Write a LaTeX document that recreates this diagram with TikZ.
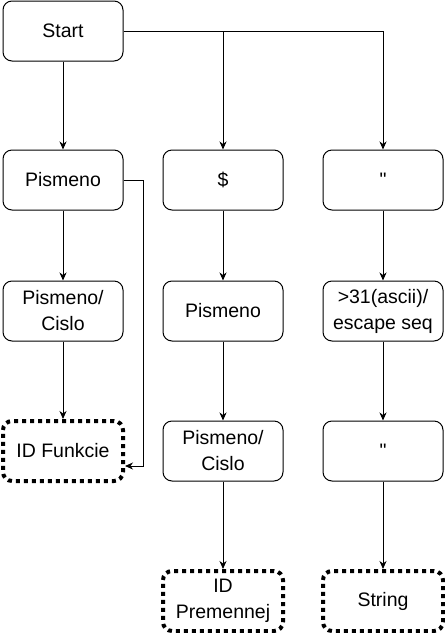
\documentclass[tikz,border=0pt]{standalone}
\usepackage{fontspec}
\setmainfont{Liberation Sans}
\usetikzlibrary{arrows.meta}
\tikzset{
  state/.style={draw, rounded corners=9pt, line width=1pt, minimum width=120pt, minimum height=60pt,
    align=center, font=\fontsize{19.5}{26}\selectfont, inner sep=0pt},
  final/.style={state, line width=4pt, dash pattern=on 4pt off 4pt},
  arr/.style={-{Stealth[length=8pt,width=7pt,inset=2.5pt]}, line width=1pt}
}
\begin{document}
\begin{tikzpicture}[x=1pt, y=-1pt]
  \useasboundingbox (0,0) rectangle (445,633);

  \node[state] (start) at (63,31) {Start};

  % identifikator funkcie
  \node[state] (fp) at (63,180) {Pismeno};
  \node[state] (fpc) at (63,311) {Pismeno/\\Cislo};
  \node[final] (fid) at (63,451) {ID Funkcie};

  % premenna
  \node[state] (dol) at (223,180) {\$};
  \node[state] (vp) at (223,311) {Pismeno};
  \node[state] (vpc) at (223,451) {Pismeno/\\Cislo};
  \node[final] (vid) at (223,601) {ID\\Premennej};

  % retazec
  \node[state] (q1) at (383,180) {\textquotedbl};
  \node[state] (chr) at (383,311) {>31(ascii)/\\escape seq};
  \node[state] (q2) at (383,451) {\textquotedbl};
  \node[final] (str) at (383,601) {String};

  \draw[arr] (start) -- (fp);
  \draw[arr] (start.east) -| (dol);
  \draw[arr] (start.east) -| (q1);

  \draw[arr] (fp) -- (fpc);
  \draw[arr] (fpc) -- (fid);
  \draw[arr] (fp.east) -- ++(20,0) |- ([yshift=-15pt]fid.east); % bez cisla

  \draw[arr] (dol) -- (vp);
  \draw[arr] (vp) -- (vpc);
  \draw[arr] (vpc) -- (vid);

  \draw[arr] (q1) -- (chr);
  \draw[arr] (chr) -- (q2);
  \draw[arr] (q2) -- (str);
\end{tikzpicture}
\end{document}
